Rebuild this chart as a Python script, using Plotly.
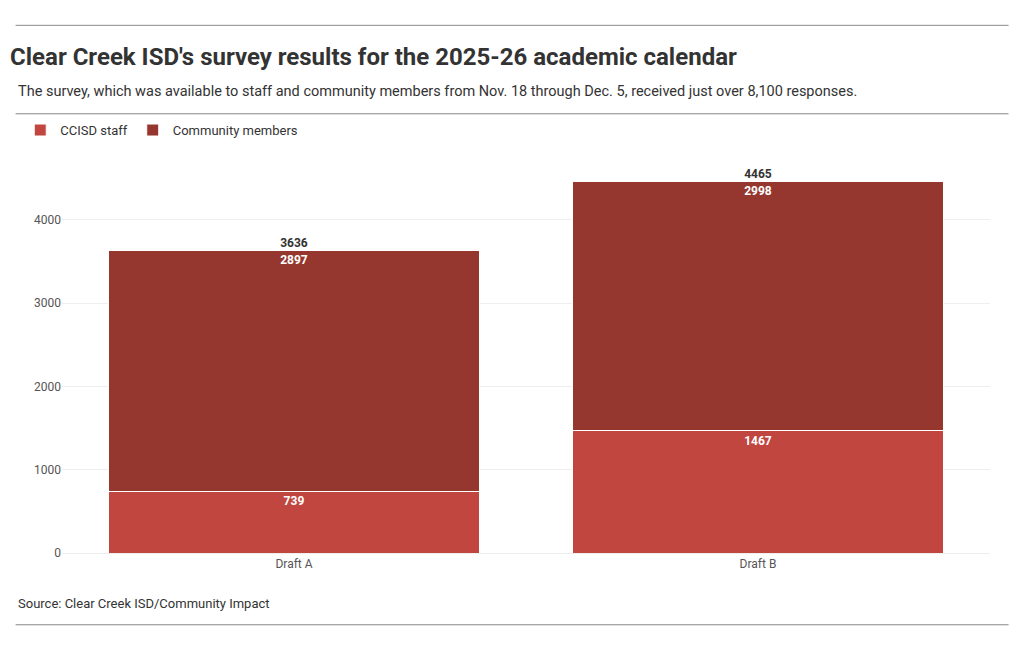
import plotly.graph_objects as go

# data
drafts = ['Draft A', 'Draft B']
staff = [739, 1467]
community = [2897, 2998]
totals = [s + c for s, c in zip(staff, community)]

fig = go.Figure()
fig.add_bar(x=drafts, y=staff, name='CCISD staff', marker=dict(color='#c1463f', line=dict(color='white', width=1)),
            text=staff, textposition='inside', insidetextanchor='end',
            textfont=dict(color='white', size=12, family='Roboto', weight='bold'))
fig.add_bar(x=drafts, y=community, name='Community members', marker=dict(color='#95372e', line=dict(color='white', width=1)),
            text=community, textposition='inside', insidetextanchor='end',
            textfont=dict(color='white', size=12, family='Roboto', weight='bold'))
fig.add_scatter(x=drafts, y=totals, mode='text', text=totals, textposition='top center',
                textfont=dict(color='#333', size=12, family='Roboto', weight='bold'),
                showlegend=False, hoverinfo='skip')

fig.update_layout(
    barmode='stack', bargap=0.2,
    width=1020, height=650,
    paper_bgcolor='white', plot_bgcolor='white',
    font=dict(family='Roboto', color='#333', size=13),
    margin=dict(l=42, r=38, t=157, b=105),
    title=dict(text="<b>Clear Creek ISD's survey results for the 2025-26 academic calendar</b>",
               x=0.002, xanchor='left', y=0.926, yanchor='middle', font=dict(size=24, color='#333')),
    legend=dict(orientation='h', x=-0.045, xanchor='left', y=1.09, yanchor='middle',
                font=dict(size=13), itemwidth=30, traceorder='normal'),
    yaxis=dict(range=[0, 4660], dtick=1000, gridcolor='#eeeeee', zeroline=False,
               tickfont=dict(size=12, color='#555')),
    xaxis=dict(tickfont=dict(size=12, color='#555'), showline=True, linecolor='#eeeeee'),
    annotations=[
        dict(text='The survey, which was available to staff and community members from Nov. 18 through Dec. 5, received just over 8,100 responses.',
             xref='paper', yref='paper', x=-0.05, y=1.19, xanchor='left', yanchor='middle',
             showarrow=False, font=dict(size=14.5, color='#333')),
        dict(text='Source: Clear Creek ISD/Community Impact', xref='paper', yref='paper',
             x=-0.05, y=-0.13, xanchor='left', yanchor='middle', showarrow=False,
             font=dict(size=13, color='#333')),
    ],
    shapes=[
        dict(type='line', xref='paper', yref='paper', x0=-0.05, x1=1.02, y0=1.36, y1=1.36, line=dict(color='#888', width=1)),
        dict(type='line', xref='paper', yref='paper', x0=-0.05, x1=1.02, y0=1.132, y1=1.132, line=dict(color='#888', width=1)),
        dict(type='line', xref='paper', yref='paper', x0=-0.05, x1=1.02, y0=-0.185, y1=-0.185, line=dict(color='#888', width=1)),
    ],
)
fig.write_html('out.html')
